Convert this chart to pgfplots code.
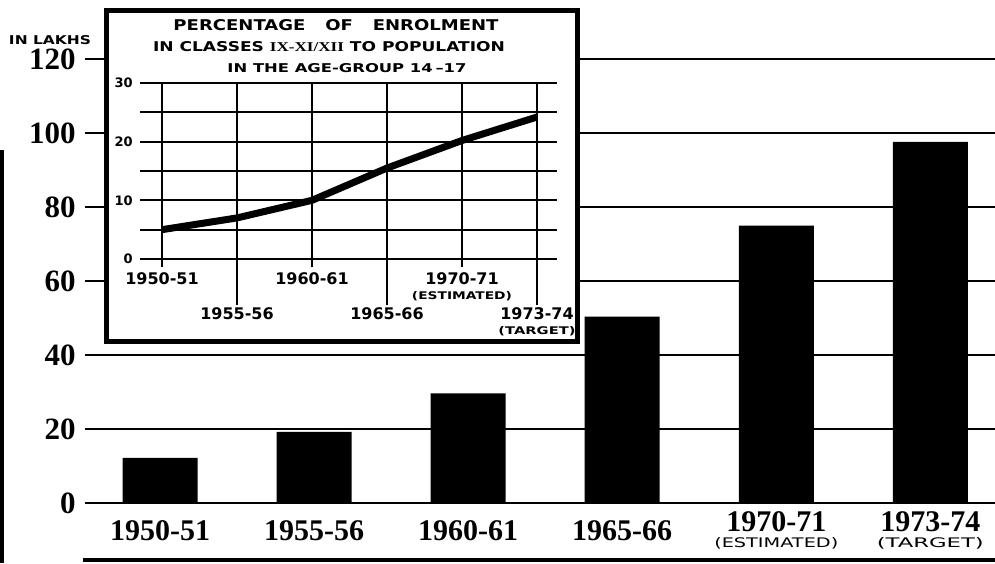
\documentclass[border=0pt]{standalone}
\usepackage{pgfplots}
\pgfplotsset{compat=1.18}
\usepackage{graphicx}
\usepackage{fontspec}
\setmainfont{Liberation Serif}
\newfontfamily\capsf{DejaVu Sans}
\newlength\px \setlength\px{0.5pt}
\newcommand\fit[3]{\resizebox{#1\px}{#2\px}{#3}}
\begin{document}
\begin{tikzpicture}
\path[use as bounding box] (0,0) rectangle (497.5pt,281.5pt);
% main bar chart
\begin{axis}[at={(42.5pt,30pt)}, anchor=south west, scale only axis,
  width=455pt, height=222pt,
  xmin=-0.487, xmax=5.42, ymin=0, ymax=120,
  axis line style={draw=none},
  ytick={0,20,...,120}, ymajorgrids, grid style={black, line width=1pt},
  ytick style={draw=none}, xtick style={draw=none},
  xtick={0,...,5},
  xticklabels={1950-51,1955-56,1960-61,1965-66,{1970-71\\\fit{124}{10}{\capsf\mdseries (ESTIMATED)}},{1973-74\\\fit{107}{10}{\capsf\mdseries (TARGET)}}},
  xticklabel style={anchor=center, align=center, yshift=-9.5pt, inner sep=0pt,
    font=\fontsize{15}{8}\selectfont\bfseries},
  yticklabel style={anchor=east, xshift=-4.5pt, inner sep=0pt,
    font=\fontsize{15.5}{17}\selectfont\bfseries},
  /pgf/number format/assume math mode=true,
  ybar, bar width=37.5pt, clip=false]
\addplot[fill=black, draw=none] coordinates {(0,12.2)(1,19.2)(2,29.6)(3,50.4)(4,75.0)(5,97.6)};
\end{axis}
% inset frame
\draw[line width=2.5pt, fill=white] (53.25pt,110.75pt) rectangle (288.75pt,276.25pt);
\node at (168pt,269pt) {\fit{325}{11}{\capsf\bfseries PERCENTAGE\hspace{1.1em}OF\hspace{1.1em}ENROLMENT}};
\node at (164.5pt,258pt) {\fit{352}{10}{\capsf\bfseries IN CLASSES {\rmfamily\bfseries IX-XI/XII} TO POPULATION}};
\node at (173.5pt,247.5pt) {\fit{239}{9}{\capsf\bfseries IN THE AGE-GROUP 14\,–17}};
\node at (25pt,261.5pt) {\fit{82}{9}{\capsf\bfseries IN LAKHS}};
% inset line chart
\begin{axis}[at={(70pt,152pt)}, anchor=south west, scale only axis,
  width=208.5pt, height=88pt,
  xmin=-0.293, xmax=5.267, ymin=0, ymax=30,
  axis line style={draw=none},
  ytick={0,10,20,30}, minor ytick={5,15,25}, ymajorgrids, yminorgrids, xmajorgrids,
  major grid style={black, line width=1pt}, minor grid style={black, line width=1pt},
  ytick style={draw=none},
  tick align=outside, xtick pos=bottom, ytick pos=left,
  xtick={0,2,4},
  xticklabels={1950-51,1960-61,{1970-71\\\fit{100}{8}{\capsf\bfseries (ESTIMATED)}}},
  extra x ticks={1,3,5},
  extra x tick labels={1955-56,1965-66,{1973-74\\\fit{77}{8}{\capsf\bfseries (TARGET)}}},
  xtick style={black, line width=1pt},
  major tick length=4pt,
  extra x tick style={grid=major, major tick length=23pt, xticklabel style={yshift=1.5pt}},
  xticklabel style={anchor=north, align=center, inner sep=0pt, yshift=-2.5pt,
    font=\capsf\bfseries\fontsize{8}{7.5}\selectfont},
  yticklabel style={anchor=east, xshift=0.5pt, inner sep=0pt,
    font=\capsf\bfseries\fontsize{6.5}{7}\selectfont},
  /pgf/number format/assume math mode=true,
  clip=false]
\addplot[black, line width=3.5pt, line join=round] coordinates {(0,5.0)(1,7.0)(2,10.0)(3,15.5)(4,20.2)(5,24.2)};
\end{axis}
% bottom rule and left edge
\draw[line width=2pt] (41.5pt,1.5pt) -- (497.5pt,1.5pt);
\fill[black] (0,0) rectangle (2pt,206.5pt);
\end{tikzpicture}
\end{document}
